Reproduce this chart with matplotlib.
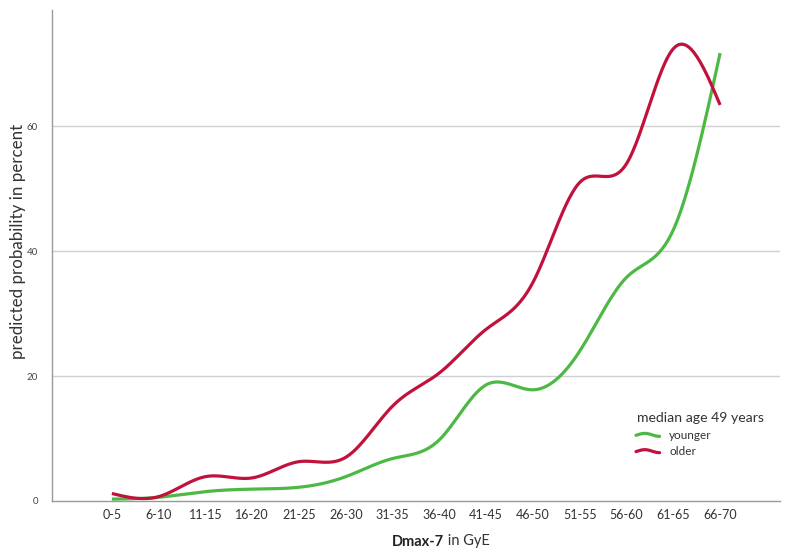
import numpy as np
import matplotlib
matplotlib.use("Agg")
import matplotlib.pyplot as plt
from matplotlib.legend_handler import HandlerBase
from matplotlib.lines import Line2D

categories = ["0-5", "6-10", "11-15", "16-20", "21-25", "26-30", "31-35",
              "36-40", "41-45", "46-50", "51-55", "56-60", "61-65", "66-70"]
younger = [0.3, 0.6, 1.5, 1.9, 2.2, 3.9, 6.8, 9.8, 18.6, 17.8, 24.0, 35.8, 43.4, 71.7]
older = [1.2, 0.7, 3.9, 3.7, 6.3, 7.0, 15.2, 20.5, 27.5, 35.0, 51.0, 54.0, 72.4, 63.4]
yticks = [0, 20, 40, 60]

GREEN = "#4cb944"
RED = "#c0123c"


def natural_spline(x, y, n=400):
    x = np.asarray(x, float)
    y = np.asarray(y, float)
    k = len(x)
    h = np.diff(x)
    A = np.zeros((k, k))
    b = np.zeros(k)
    A[0, 0] = 1
    A[-1, -1] = 1
    for i in range(1, k - 1):
        A[i, i - 1] = h[i - 1]
        A[i, i] = 2 * (h[i - 1] + h[i])
        A[i, i + 1] = h[i]
        b[i] = 3 * ((y[i + 1] - y[i]) / h[i] - (y[i] - y[i - 1]) / h[i - 1])
    c = np.linalg.solve(A, b)
    xs = np.linspace(x[0], x[-1], n)
    ys = np.empty_like(xs)
    for j, xv in enumerate(xs):
        i = min(np.searchsorted(x, xv, side="right") - 1, k - 2)
        dx = xv - x[i]
        bi = (y[i + 1] - y[i]) / h[i] - h[i] * (2 * c[i] + c[i + 1]) / 3
        di = (c[i + 1] - c[i]) / (3 * h[i])
        ys[j] = y[i] + bi * dx + c[i] * dx ** 2 + di * dx ** 3
    return xs, ys


class WaveHandler(HandlerBase):
    def create_artists(self, legend, orig_handle, xdescent, ydescent,
                       width, height, fontsize, trans):
        t = np.linspace(0, 1, 30)
        xs = t * width
        ys = height / 2 + np.sin(t * np.pi * 1.6 - 0.3) * height * 0.18
        ln = Line2D(xs, ys, color=orig_handle.get_color(),
                    linewidth=orig_handle.get_linewidth(), solid_capstyle="round")
        ln.set_transform(trans)
        return [ln]


plt.rcParams["font.family"] = ["Lato", "DejaVu Sans"]
fig = plt.figure(figsize=(7.9, 5.56), dpi=100)
ax = fig.add_axes([52 / 790, 55 / 556, 728 / 790, 491 / 556])

x = np.arange(len(categories))
xs, yg = natural_spline(x, younger)
_, yr = natural_spline(x, older)
lg, = ax.plot(xs, yg, color=GREEN, lw=2.3, label="younger", solid_capstyle="butt")
lr, = ax.plot(xs, yr, color=RED, lw=2.3, label="older", solid_capstyle="butt")

ax.set_xlim(-1.28, 14.28)
ax.set_ylim(0, 78.6)
ax.set_yticks(yticks)
ax.set_yticklabels([str(v) for v in yticks], fontsize=7, color="#444444")
ax.set_xticks(x)
ax.set_xticklabels(categories, fontsize=9, color="#333333")
ax.tick_params(axis="x", length=0, pad=6)
ax.tick_params(axis="y", length=0, pad=10)
for v in yticks[1:]:
    ax.axhline(v, color="#d0d0d0", lw=1, zorder=0)
for s in ["top", "right"]:
    ax.spines[s].set_visible(False)
for s in ["left", "bottom"]:
    ax.spines[s].set_color("#999999")
    ax.spines[s].set_linewidth(1)

fig.text(18 / 790, 1 - 241 / 556, "predicted probability in percent", fontsize=12.2,
         color="#333333", rotation=90, ha="center", va="center")

fig.text(444 / 790, 1 - 540 / 556, "Dmax-7", fontsize=10.5, fontweight="bold",
         color="#222222", ha="right", va="center_baseline")
fig.text(444 / 790, 1 - 540 / 556, " in GyE", fontsize=10.5, color="#333333",
         ha="left", va="center_baseline")

fig.text(637 / 790, 1 - 417 / 556, "median age 49 years", fontsize=10.1,
         color="#333333", ha="left", va="center_baseline")

leg = fig.legend(handles=[lg, lr], loc="upper left",
                 bbox_to_anchor=(636 / 790, 1 - 430 / 556),
                 bbox_transform=fig.transFigure,
                 frameon=False, fontsize=8.5,
                 handlelength=2.0, handletextpad=0.8,
                 labelspacing=0.45, borderpad=0, borderaxespad=0,
                 handler_map={Line2D: WaveHandler()})
for t in leg.get_texts():
    t.set_color("#333333")

fig.savefig("out.png", dpi=100)
